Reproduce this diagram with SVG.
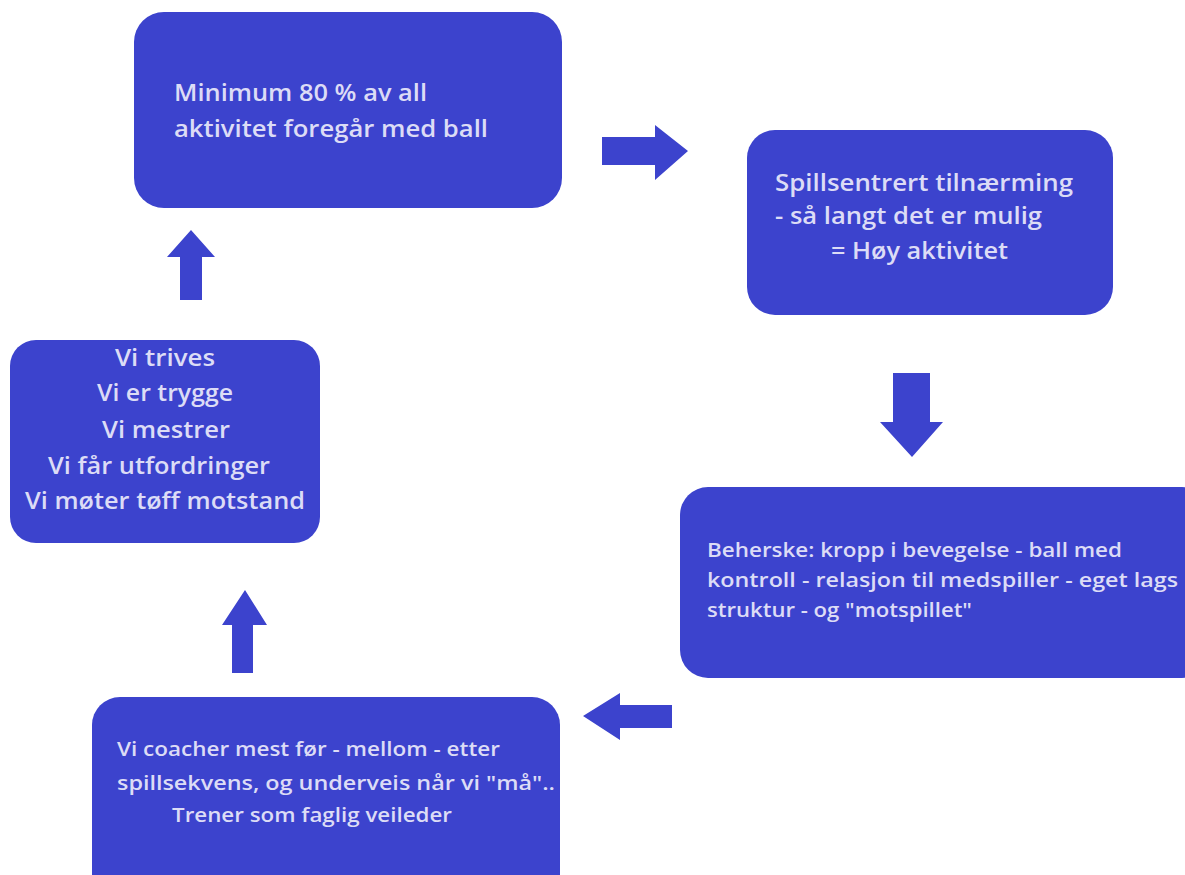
<svg xmlns="http://www.w3.org/2000/svg" width="1185" height="875" viewBox="0 0 1185 875">
<style>
.box{fill:#3c43cd;}
.arr{fill:#3c43cd;}
text{font-family:"Open Sans","Liberation Sans",sans-serif;fill:#dcdcf6;font-weight:600;}
.big{font-size:22.5px;}
.mid{font-size:20px;}
</style>
<rect width="1185" height="875" fill="#ffffff"/>
<g id="connectors">
<polygon class="arr" points="602,137 655,137 655,125 688,151 655,180 655,165 602,165"/>
<polygon class="arr" points="893,373 930,373 930,422 943,422 912,457 880,422 893,422"/>
<polygon class="arr" points="672,705 620,705 620,693 583,716 620,740 620,728 672,728"/>
<polygon class="arr" points="232,673 232,625 222,625 245,590 267,625 253,625 253,673"/>
<polygon class="arr" points="180,300 180,257 167,257 191,230 215,257 202,257 202,300"/>
</g>
<g id="node1">
<rect class="box" x="134" y="12" width="428" height="196" rx="30"/>
<text class="big" x="174" y="101" textLength="253" lengthAdjust="spacingAndGlyphs">Minimum 80 % av all</text>
<text class="big" x="174" y="137" textLength="314" lengthAdjust="spacingAndGlyphs">aktivitet foregår med ball</text>
</g>
<g id="node2">
<rect class="box" x="747" y="130" width="366" height="185" rx="28"/>
<text class="big" x="775" y="191" textLength="298" lengthAdjust="spacingAndGlyphs">Spillsentrert tilnærming</text>
<text class="big" x="775" y="224" textLength="267" lengthAdjust="spacingAndGlyphs">- så langt det er mulig</text>
<text class="big" x="831" y="259" textLength="177" lengthAdjust="spacingAndGlyphs">= Høy aktivitet</text>
</g>
<g id="node3">
<rect class="box" x="680" y="487" width="530" height="191" rx="28"/>
<text class="mid" x="707" y="557" textLength="415" lengthAdjust="spacingAndGlyphs">Beherske: kropp i bevegelse - ball med</text>
<text class="mid" x="707" y="587" textLength="471" lengthAdjust="spacingAndGlyphs">kontroll - relasjon til medspiller - eget lags</text>
<text class="mid" x="707" y="617" textLength="265" lengthAdjust="spacingAndGlyphs">struktur - og "motspillet"</text>
</g>
<g id="node4">
<rect class="box" x="92" y="697" width="468" height="210" rx="28"/>
<text class="mid" x="117" y="756" textLength="383" lengthAdjust="spacingAndGlyphs">Vi coacher mest før - mellom - etter</text>
<text class="mid" x="117" y="790" textLength="438" lengthAdjust="spacingAndGlyphs">spillsekvens, og underveis når vi "må"..</text>
<text class="mid" x="172" y="822" textLength="280" lengthAdjust="spacingAndGlyphs">Trener som faglig veileder</text>
</g>
<g id="node5">
<rect class="box" x="10" y="340" width="310" height="203" rx="26"/>
<text class="big" x="115" y="366" textLength="100" lengthAdjust="spacingAndGlyphs">Vi trives</text>
<text class="big" x="97" y="401" textLength="136" lengthAdjust="spacingAndGlyphs">Vi er trygge</text>
<text class="big" x="102" y="438" textLength="128" lengthAdjust="spacingAndGlyphs">Vi mestrer</text>
<text class="big" x="48" y="474" textLength="222" lengthAdjust="spacingAndGlyphs">Vi får utfordringer</text>
<text class="big" x="25" y="509" textLength="280" lengthAdjust="spacingAndGlyphs">Vi møter tøff motstand</text>
</g>
</svg>
